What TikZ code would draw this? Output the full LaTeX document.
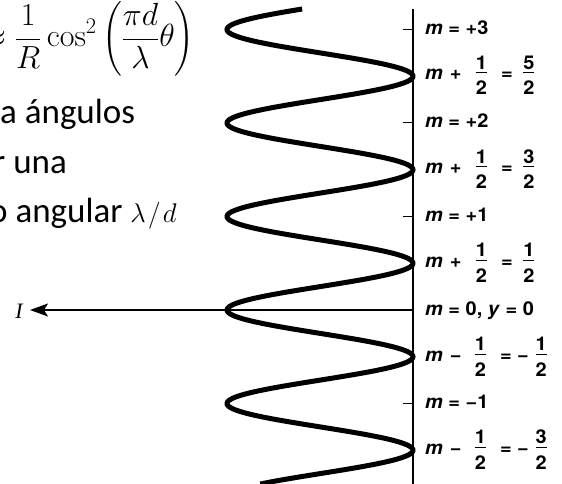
\RequirePackage{fix-cm}
\documentclass[tikz,border=0pt]{standalone}
\usepackage{amsmath}
\usepackage{fontspec}
\newfontfamily\calfont{Carlito}
\newfontfamily\labfont[FakeStretch=1.05]{TeX Gyre Heros}
\newfontfamily\serfont{Liberation Serif}
\usetikzlibrary{arrows.meta}
\newcommand\hfr[2]{\makebox[13.5pt]{\makebox[0pt]{\raisebox{10.5pt}{#1}}\makebox[0pt]{\rule[6.6pt]{11pt}{0.9pt}}\makebox[0pt]{\raisebox{-15pt}{#2}}}}
\begin{document}
\begin{tikzpicture}[x=1pt,y=-1pt,
  curve/.style={line width=5pt},
  axisline/.style={line width=2pt},
  tickline/.style={line width=1pt},
  lab/.style={anchor=base west, inner sep=0pt, font=\labfont\bfseries\fontsize{19}{22}\selectfont},
  txt/.style={anchor=base west, inner sep=0pt, font=\calfont\fontsize{35}{42}\selectfont},
  arr/.style={line width=1.4pt, -{Stealth[length=18pt,width=13pt,inset=4pt]}}]
\useasboundingbox (0,0) rectangle (562,484);
\clip (0,0) rectangle (562,484);
% formula and text
\node[anchor=base west, inner sep=0pt, font=\fontsize{32}{38}\selectfont] (formula) at (-19,47)
  {$\displaystyle\approx\frac{1}{R}\cos^2\left(\frac{\pi d}{\lambda}\theta\right)$};
\node[txt] (l1) at (0,124) {a ángulos};
\node[txt] (l2) at (-7,173) {r una};
\node[txt] (l3) at (-11,222) {o angular {\fontsize{27}{30}\selectfont$\lambda\mkern1.5mu/\mkern1.5mu d$}};
% axis
\coordinate (axtop) at (413,9);
\coordinate (axbot) at (413,484);
\draw[axisline] (axtop) -- (axbot);
\foreach \k in {3,2,1,-1} \draw[tickline] (413,{310-93.5*\k}) -- (403,{310-93.5*\k});
% curve
\draw[curve] plot[domain=9:484, samples=400, variable=\t] ({320-93*cos(3.850267*(\t-310))},\t);
% arrow
\coordinate (origin) at (413,310);
\coordinate (Itip) at (30,310);
\node[font=\serfont\itshape\fontsize{22}{24}\selectfont, inner sep=0pt] (Ilab) at (19,311) {I};
\draw[arr] (origin) -- (Itip);
% labels
\node[lab] (k3) at (425,34.5) {\textit{m} = +3};
\node[lab] (k25) at (425,80) {\textit{m}\hspace{7pt}+\hspace{13pt}\hfr12\hspace{13pt}=\hspace{9.5pt}\hfr52};
\node[lab] (k2) at (425,128) {\textit{m} = +2};
\node[lab] (k15) at (425,173.5) {\textit{m}\hspace{7pt}+\hspace{13pt}\hfr12\hspace{13pt}=\hspace{9.5pt}\hfr32};
\node[lab] (k1) at (425,221.5) {\textit{m} = +1};
\node[lab] (k05) at (425,267) {\textit{m}\hspace{7pt}+\hspace{13pt}\hfr12\hspace{13pt}=\hspace{9.5pt}\hfr12};
\node[lab] (k0) at (425,315) {\textit{m} = 0, \textit{y} = 0};
\node[lab] (km05) at (425,361) {\textit{m}\hspace{7pt}−\hspace{12pt}\hfr12\hspace{13pt}=\hspace{5.5pt}−\hspace{5.5pt}\hfr12};
\node[lab] (km1) at (425,408.5) {\textit{m} = −1};
\node[lab] (km15) at (425,454) {\textit{m}\hspace{7pt}−\hspace{12pt}\hfr12\hspace{13pt}=\hspace{5.5pt}−\hspace{5.5pt}\hfr32};
\end{tikzpicture}
\end{document}
